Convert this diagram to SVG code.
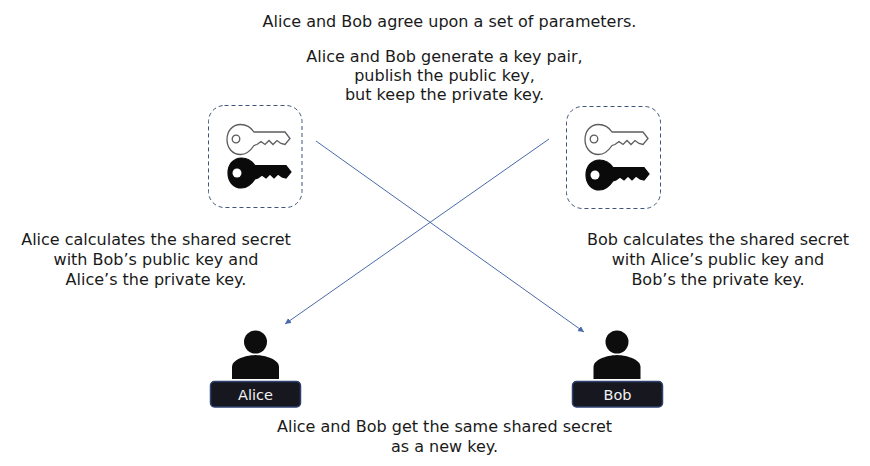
<svg xmlns="http://www.w3.org/2000/svg" width="870" height="466" viewBox="0 0 870 466">
<style>
text{font-family:"DejaVu Sans",Verdana,sans-serif;font-size:16px;fill:#1a1a1a;text-anchor:middle}
.box{fill:#fff;stroke:#3f5478;stroke-width:1;stroke-dasharray:4 3}
.conn{fill:none;stroke:#4a6aa8;stroke-width:1;marker-end:url(#arrow)}
.tag{fill:#17171f;stroke:#2e4272;stroke-width:1.5}
.tag-text{fill:#f2f2f2;font-size:14.500px}
.person{fill:#0d0d0d}
.kw{fill:#fff;stroke:#5c5c5c;stroke-width:1.300}
.kb{fill:#0a0a0a;stroke:#0a0a0a;stroke-width:1.200}
</style>
<defs>
<marker id="arrow" markerWidth="8" markerHeight="8" refX="6" refY="3" orient="auto" markerUnits="userSpaceOnUse"><path d="M0,0L6,3L0,6z" fill="#4a6aa8"/></marker>
<path id="key" d="M27,-7.500L58,-7.500L63,-1L58,5L54,4L50,1L46,5L42,1L38,5L34,2L30,5L27,6C23,12 18,15 13.500,15C5,15 0,8 0,0C0,-8 5,-15 13.500,-15C19,-15 24,-12 27,-7.500Z"/>
<symbol id="person" overflow="visible"><circle cx="23.500" cy="12" r="11.500" class="person"/><path class="person" d="M0,49V37C0,30 12,25.500 23.500,25C35,25.500 47,30 47,37V49Z"/></symbol>
</defs>
<text x="449.500" y="27">Alice and Bob agree upon a set of parameters.</text>
<text x="444.500" y="62">Alice and Bob generate a key pair,</text>
<text x="444.500" y="81">publish the public key,</text>
<text x="444.500" y="100">but keep the private key.</text>
<g id="alice-keys">
<rect class="box" x="208.500" y="105.500" width="93.500" height="102" rx="16"/>
<g transform="translate(227,139.500)"><use href="#key" class="kw"/><circle cx="9" cy="-0.500" r="3.800" class="kw"/></g>
<g transform="translate(228,173)"><use href="#key" class="kb"/><circle cx="9" cy="0" r="4.500" fill="#fff"/></g>
</g>
<g id="bob-keys">
<rect class="box" x="566.500" y="106.500" width="94" height="102" rx="16"/>
<g transform="translate(585,139.500)"><use href="#key" class="kw"/><circle cx="9" cy="-0.500" r="3.800" class="kw"/></g>
<g transform="translate(586,175)"><use href="#key" class="kb"/><circle cx="9" cy="0" r="4.500" fill="#fff"/></g>
</g>
<g id="connectors">
<path class="conn" d="M316,141L584,332"/>
<path class="conn" d="M549,139L285,324"/>
</g>
<text x="156" y="245">Alice calculates the shared secret</text>
<text x="156" y="265">with Bob’s public key and</text>
<text x="156" y="285">Alice’s the private key.</text>
<text x="718" y="245">Bob calculates the shared secret</text>
<text x="718" y="265">with Alice’s public key and</text>
<text x="718" y="285">Bob’s the private key.</text>
<g id="alice">
<use href="#person" x="232" y="330"/>
<rect class="tag" x="210.500" y="381.500" width="90" height="25.500" rx="4"/>
<text class="tag-text" x="255.500" y="399.500">Alice</text>
</g>
<g id="bob">
<use href="#person" x="593.500" y="330"/>
<rect class="tag" x="572.500" y="381.500" width="90" height="25.500" rx="4"/>
<text class="tag-text" x="617.500" y="399.500">Bob</text>
</g>
<text x="444.500" y="432">Alice and Bob get the same shared secret</text>
<text x="444.500" y="452">as a new key.</text>
</svg>
